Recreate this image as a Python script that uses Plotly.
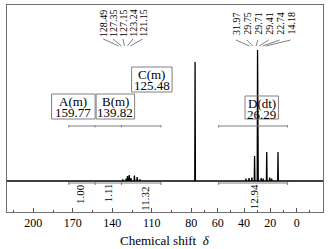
import plotly.graph_objects as go

# ---- data ----
peak_ppm = [132.0, 129.5, 128.49, 127.35, 127.15, 125.8, 123.24, 121.15, 119.0,
            77.16, 38.5, 36.2, 34.0, 31.97, 29.75, 29.71, 29.41, 27.0, 25.5, 22.74, 20.5, 19.0, 14.18]
peak_height = [1.5, 2.5, 5.0, 6.0, 6.0, 3.0, 5.5, 4.0, 1.5,
               119, 2.5, 3.0, 3.5, 25, 12, 131, 10, 3.0, 2.5, 29, 3.5, 2.5, 29]

top_labels_left = ["128.49", "127.35", "127.15", "123.24", "121.15"]
top_labels_right = ["31.97", "29.75", "29.71", "29.41", "22.74", "14.18"]

boxes = [("A(m)", "159.77"), ("B(m)", "139.82"), ("C(m)", "125.48"), ("D(dt)", "26.29")]
integrals = ["1.00", "1.11", "11.32", "12.94"]

major_ticks = [200, 170, 140, 110, 80, 60, 40, 20, 0]
minor_ticks = [215, 185, 155, 125, 95, 70, 50, 30, 10, -10]

# ---- build spectrum trace ----
w = 0.25
pairs = sorted(zip(peak_ppm, peak_height), key=lambda p: -p[0])
xs, ys = [220], [0]
for p, h in pairs:
    xs += [p + w, p, p - w]
    ys += [0, h, 0]
xs.append(-20)
ys.append(0)

FONT = "Liberation Serif"
fig = go.Figure()
fig.add_trace(go.Scatter(x=xs, y=ys, mode="lines",
                         line=dict(color="black", width=1.3), hoverinfo="skip"))

# pixel -> data helpers for layout items (x: 1.3 px/ppm, 0 ppm at px 297; y: baseline px 181)
def px2ppm(px):
    return (297 - px) / 1.3

def py2d(py):
    return 181 - py

shapes = []
ann = []
grey = "#808080"

# top peak labels and connectors
left_px = [106, 115.75, 125.5, 135.25, 145]
for lab, px in zip(top_labels_left, left_px):
    ann.append(dict(x=px2ppm(px), y=py2d(23), text=lab, textangle=-90, showarrow=False,
                    xanchor="center", yanchor="middle", font=dict(family=FONT, size=10, color="black")))
    shapes.append(dict(type="line", x0=px2ppm(px), y0=py2d(39), x1=px2ppm(127 + (px - 125.5) * 0.3), y1=py2d(46),
                       line=dict(color=grey, width=1)))
right_px = [237, 247.8, 258.6, 269.4, 280.2, 291]
for lab, px in zip(top_labels_right, right_px):
    ann.append(dict(x=px2ppm(px), y=py2d(23), text=lab, textangle=-90, showarrow=False,
                    xanchor="center", yanchor="middle", font=dict(family=FONT, size=10, color="black")))
    shapes.append(dict(type="line", x0=px2ppm(px), y0=py2d(40), x1=px2ppm(258.5 + (px - 264) * 0.3), y1=py2d(46),
                       line=dict(color=grey, width=1)))

# boxes (multiplet labels)
box_geom = [(55, 98, 94, 119), (99, 137, 94, 119), (134, 174, 67, 92), (246, 279, 96, 119)]
for (t1, t2), (x0, x1, y0, y1) in zip(boxes, box_geom):
    shapes.append(dict(type="rect", x0=px2ppm(x0), x1=px2ppm(x1), y0=py2d(y0), y1=py2d(y1),
                       line=dict(color=grey, width=1), fillcolor="rgba(0,0,0,0)"))
    cx = px2ppm((x0 + x1) / 2)
    ann.append(dict(x=cx, y=py2d(y0 + 7.5), text=t1, showarrow=False, xanchor="center", yanchor="middle",
                    font=dict(family=FONT, size=13, color="black")))
    ann.append(dict(x=cx, y=py2d(y0 + 18), text=t2, showarrow=False, xanchor="center", yanchor="middle",
                    font=dict(family=FONT, size=13, color="black")))

# multiplet range lines (top) with dividers
for a, b in [(72, 163), (220, 288)]:
    shapes.append(dict(type="line", x0=px2ppm(a), x1=px2ppm(b), y0=py2d(126), y1=py2d(126),
                       line=dict(color=grey, width=1)))
for d in [72, 98, 124, 163, 220, 288]:
    shapes.append(dict(type="line", x0=px2ppm(d), x1=px2ppm(d), y0=py2d(125), y1=py2d(127.5),
                       line=dict(color=grey, width=1)))

# integral range lines (bottom)
for a, b in [(72, 163), (220, 288)]:
    shapes.append(dict(type="line", x0=px2ppm(a), x1=px2ppm(b), y0=py2d(183), y1=py2d(183),
                       line=dict(color=grey, width=1)))
for d in [72, 98, 124, 163, 220, 288]:
    shapes.append(dict(type="line", x0=px2ppm(d), x1=px2ppm(d), y0=py2d(182), y1=py2d(185),
                       line=dict(color=grey, width=1)))

int_pos = [(83, 194), (111, 193), (147, 199), (255, 197)]
for lab, (px, py) in zip(integrals, int_pos):
    ann.append(dict(x=px2ppm(px), y=py2d(py), text=lab, textangle=-90, showarrow=False,
                    xanchor="center", yanchor="middle", font=dict(family=FONT, size=11, color="black")))

# axis title as paper annotation
ann.append(dict(x=(165 - 7) / 316, y=(212 - 240) / 207, xref="paper", yref="paper",
                text="Chemical shift  <i>δ</i>", showarrow=False, xanchor="center", yanchor="middle",
                font=dict(family=FONT, size=13, color="black")))

fig.update_layout(
    width=330, height=249,
    margin=dict(l=7, r=7, t=5, b=37, autoexpand=False),
    paper_bgcolor="white", plot_bgcolor="white",
    showlegend=False,
    shapes=shapes, annotations=ann,
    font=dict(family=FONT, size=12, color="black"),
)
fig.update_xaxes(range=[220, -20], tickvals=major_ticks, ticktext=[str(t) for t in major_ticks],
                 ticks="inside", ticklen=4, tickcolor="#555", showgrid=False, zeroline=False,
                 showline=True, linecolor="#6e6e6e", linewidth=1, mirror=True, automargin=False,
                 tickfont=dict(family=FONT, size=12, color="black"),
                 minor=dict(tickvals=minor_ticks, ticks="inside", ticklen=2, tickcolor="#555"))
fig.update_yaxes(range=[-31, 176], showticklabels=False, ticks="", showgrid=False, zeroline=False,
                 showline=True, linecolor="#6e6e6e", linewidth=1, mirror=True, automargin=False)

fig.write_html("out.html", config={"displayModeBar": False, "staticPlot": True},
               post_script="document.body.style.margin='0';document.body.style.overflow='hidden';")
